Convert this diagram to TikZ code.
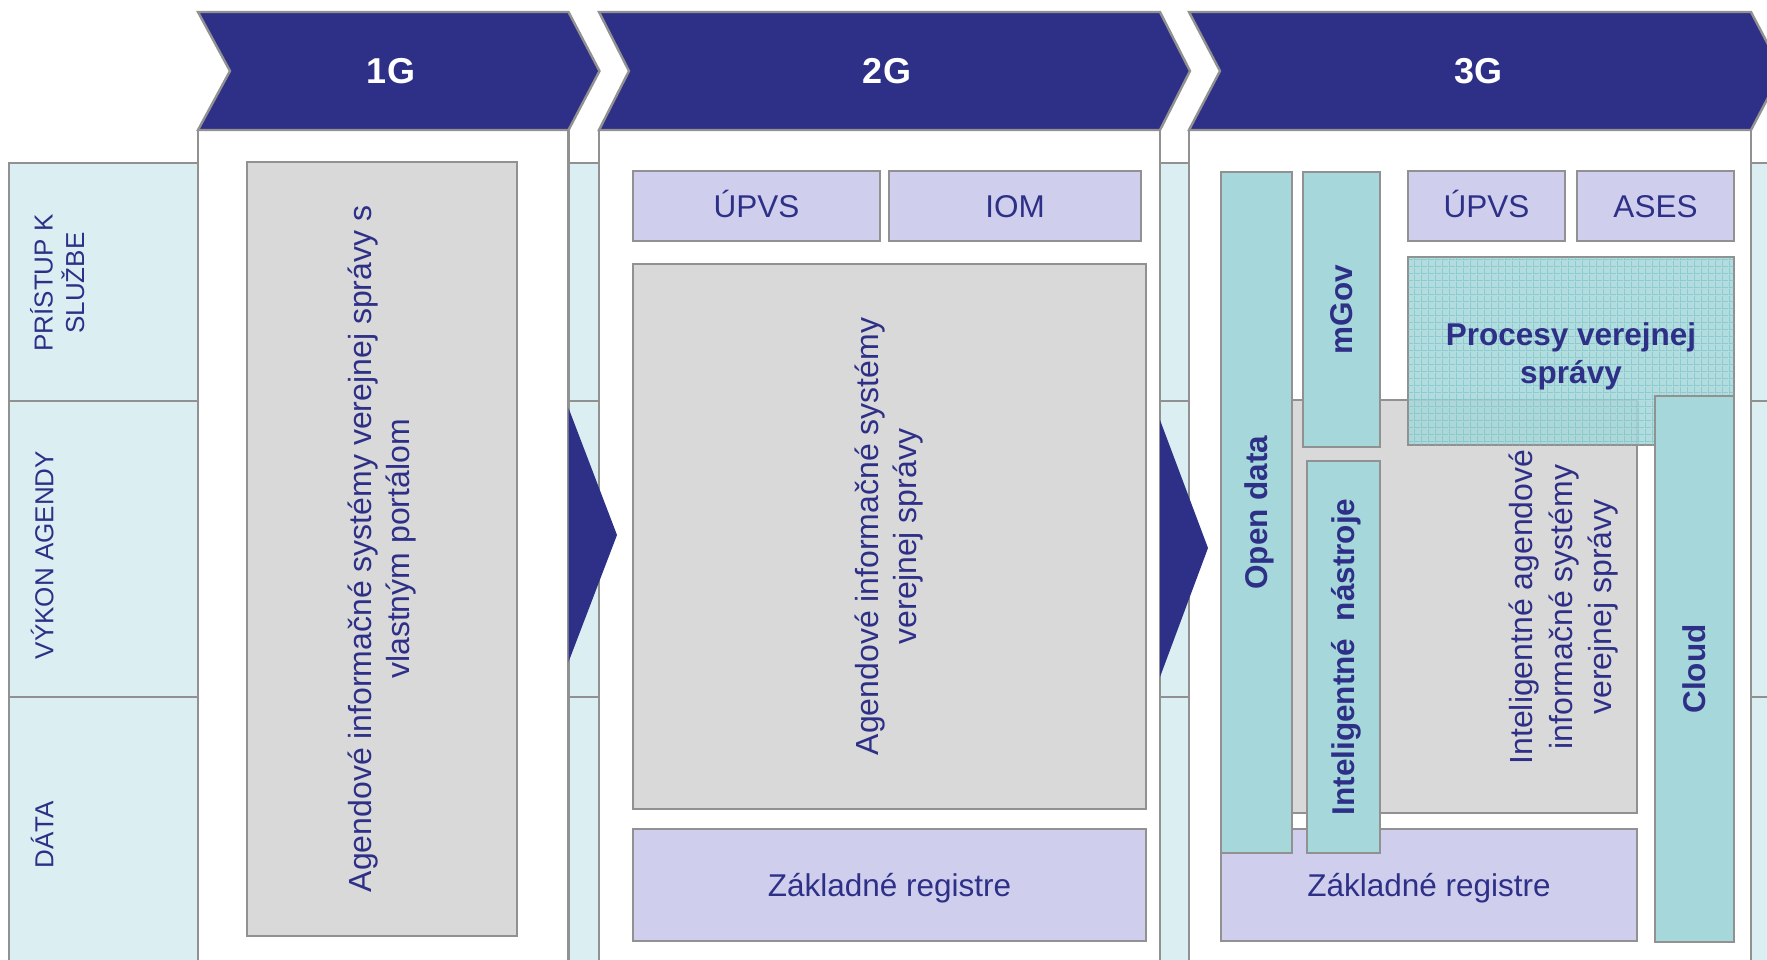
\documentclass[tikz,border=0pt]{standalone}
\usepackage{fontspec}
\setmainfont{Liberation Sans}
\usetikzlibrary{patterns.meta}
\definecolor{navy}{RGB}{46,48,135}
\definecolor{rowcyan}{RGB}{219,238,241}
\definecolor{lav}{RGB}{207,207,237}
\definecolor{grayfill}{RGB}{217,217,217}
\definecolor{tealc}{RGB}{166,215,218}
\definecolor{gridteal}{RGB}{110,192,196}
\definecolor{bordergray}{RGB}{145,145,145}
\tikzdeclarepattern{
  name=tgrid,
  type=uncolored,
  bounding box={(0pt,0pt) and (7pt,7pt)},
  tile size={(7pt,7pt)},
  code={\draw[line width=1.2pt] (0pt,0pt) -- (7pt,0pt) (0pt,0pt) -- (0pt,7pt);}
}
\tikzset{
  bd/.style={draw=bordergray, line width=2.4pt},
  lavbox/.style={bd, fill=lav, inner sep=0pt, text=navy, font=\fontsize{31.5}{38}\selectfont, text height=22.6pt, text depth=0pt},
  graybox/.style={bd, fill=grayfill, inner sep=0pt, text=navy, font=\fontsize{32}{38}\selectfont, align=center},
  tealbox/.style={bd, fill=tealc, inner sep=0pt, text=navy, font=\bfseries\fontsize{31.5}{38}\selectfont, text height=22.6pt, text depth=0pt},
  vlab/.style={text=navy, font=\fontsize{26}{31.6}\selectfont, rotate=90, align=center, inner sep=0pt},
  hdr/.style={text=white, font=\bfseries\fontsize{36}{40}\selectfont, inner sep=0pt},
  chev/.style={fill=navy, draw=bordergray, line width=2.4pt, line join=miter},
  panel/.style={fill=white, draw=bordergray, line width=2.4pt},
  rowcell/.style={fill=rowcyan, draw=bordergray, line width=2.4pt},
  arrowtri/.style={fill=navy},
}
\begin{document}
\begin{tikzpicture}[x=1pt,y=-1pt]
\useasboundingbox (0,0) rectangle (1767,960);
\clip (0,0) rectangle (1767,960);
% background rows
\path[rowcell] (8.7,163) rectangle (1800,401);
\path[rowcell] (8.7,401) rectangle (1800,697);
\path[rowcell] (8.7,697) rectangle (1800,1000);
\node[vlab] (lab1) at (57.2,283) {PRÍSTUP K\\SLUŽBE};
\node[vlab, text height=18.6pt, text depth=0pt] (lab2) at (44.1,555) {VÝKON AGENDY};
\node[vlab, text height=18.6pt, text depth=0pt] (lab3) at (44.1,835) {DÁTA};
% panels
\path[panel] (198,130) rectangle (568.5,1000);
\path[panel] (599,130) rectangle (1160,1000);
\path[panel] (1189,130) rectangle (1751,1000);
% chevrons
\path[chev] (198,12) -- (568.5,12) -- (599.5,71) -- (568.5,130) -- (198,130) -- (230,71) -- cycle;
\path[chev] (599,12) -- (1160,12) -- (1190,71) -- (1160,130) -- (599,130) -- (629,71) -- cycle;
\path[chev] (1189,12) -- (1751,12) -- (1782,71) -- (1751,130) -- (1189,130) -- (1220,71) -- cycle;
\node[hdr] (h1) at (391,71.5) {1G};
\node[hdr] (h2) at (887,71.5) {2G};
\node[hdr] (h3) at (1478,71.5) {3G};
% transition arrows
\fill[arrowtri] (568.5,408) -- (617,535) -- (568.5,662) -- cycle;
\fill[arrowtri] (1160,420) -- (1208,548) -- (1160,677) -- cycle;
% 1G
\node[graybox, rotate=90, minimum width=774pt, minimum height=270pt] (ais1) at (382,549) {Agendové informačné systémy verejnej správy s\\vlastným portálom};
% 2G
\node[lavbox, minimum width=247pt, minimum height=70pt] (upvs2) at (756.5,206) {ÚPVS};
\node[lavbox, minimum width=252pt, minimum height=70pt] (iom) at (1015,206) {IOM};
\node[graybox, rotate=90, minimum width=545pt, minimum height=513pt] (ais2) at (889.5,536.5) {Agendové informačné systémy\\verejnej správy};
\node[lavbox, minimum width=513pt, minimum height=112pt] (zr2) at (889.5,885) {Základné registre};
% 3G
\node[bd, fill=grayfill, minimum width=367pt, minimum height=413pt, inner sep=0pt] (ais3) at (1453.5,606.5) {};
\node[text=navy, font=\fontsize{32}{39.5}\selectfont, rotate=90, align=center, inner sep=0pt] (ais3t) at (1564,607) {Inteligentné agendové\\informačné systémy\\verejnej správy};
\node[bd, fill=tealc, fill opacity=0.85, postaction={pattern=tgrid, pattern color=gridteal}, minimum width=326pt, minimum height=188pt, inner sep=0pt] (proc) at (1571,351) {};
\node[text=navy, font=\bfseries\fontsize{31.5}{38}\selectfont, align=center, inner sep=0pt] (proct) at (1571,356) {Procesy verejnej\\správy};
\node[lavbox, minimum width=416pt, minimum height=112pt] (zr3) at (1429,885) {Základné registre};
\node[tealbox, rotate=90, minimum width=681pt, minimum height=71pt] (od) at (1256.5,512.5) {Open data};
\node[tealbox, rotate=90, minimum width=275pt, minimum height=77pt] (mgov) at (1341.5,309.5) {mGov};
\node[tealbox, rotate=90, minimum width=392pt, minimum height=73pt] (intel) at (1343.5,657) {Inteligentné\ \ nástroje};
\node[tealbox, rotate=90, minimum width=546pt, minimum height=79pt] (cloud) at (1694.5,669) {Cloud};
\node[lavbox, minimum width=157pt, minimum height=70pt] (upvs3) at (1486.5,206) {ÚPVS};
\node[lavbox, minimum width=157pt, minimum height=70pt] (ases) at (1655.5,206) {ASES};
\end{tikzpicture}
\end{document}
